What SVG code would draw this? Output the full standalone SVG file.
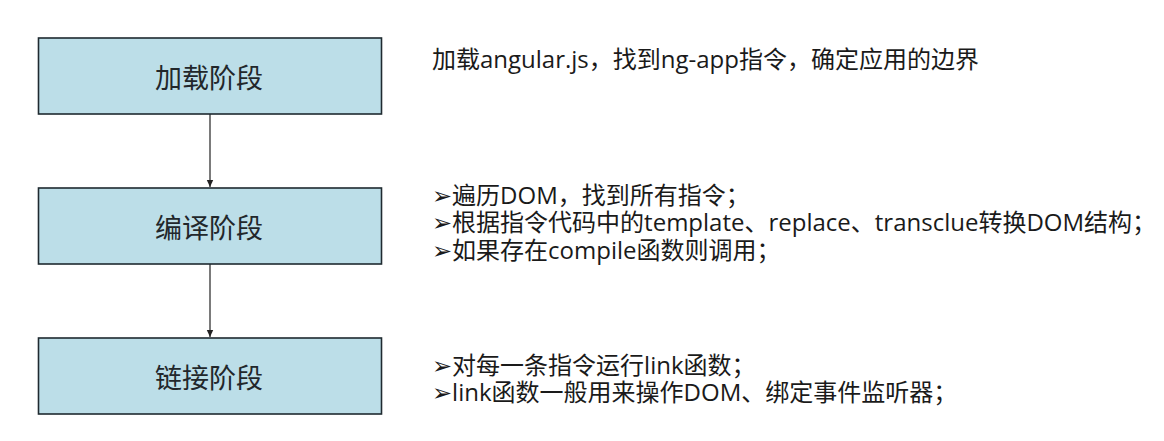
<svg xmlns="http://www.w3.org/2000/svg" width="1164" height="441" viewBox="0 0 1164 441">
<defs>
<style>
.box{fill:#BCDEE8;stroke:#1f2a30;stroke-width:1.6}
.lbl{font-family:"Noto Sans CJK SC","Noto Sans",sans-serif;font-size:27px;fill:#22272b;text-anchor:middle;dominant-baseline:central}
.desc{font-family:"Open Sans","Noto Sans CJK SC","DejaVu Sans",sans-serif;font-size:24px;fill:#1a1a1a}
.conn{stroke:#333;stroke-width:1.3;fill:none}
</style>
<marker id="ah" markerWidth="8" markerHeight="8" refX="7" refY="4" orient="auto" markerUnits="userSpaceOnUse">
<path d="M0,0.8 L7,4 L0,7.2 Z" fill="#222"/>
</marker>
</defs>
<rect width="1164" height="441" fill="#ffffff"/>
<g id="connectors">
<line class="conn" x1="210" y1="114" x2="210" y2="187" marker-end="url(#ah)"/>
<line class="conn" x1="210" y1="264" x2="210" y2="337" marker-end="url(#ah)"/>
</g>
<g id="node-load">
<rect class="box" x="38.5" y="38" width="343" height="76"/>
<text class="lbl" x="209" y="76">加载阶段</text>
</g>
<g id="node-compile">
<rect class="box" x="38.5" y="188" width="343" height="76"/>
<text class="lbl" x="209" y="226">编译阶段</text>
</g>
<g id="node-link">
<rect class="box" x="38.5" y="338" width="343" height="76"/>
<text class="lbl" x="209" y="376">链接阶段</text>
</g>
<g id="desc-load">
<text class="desc" x="432" y="68">加载angular.js，找到ng-app指令，确定应用的边界</text>
</g>
<g id="desc-compile">
<text class="desc"><tspan x="432" y="204">➢遍历DOM，找到所有指令；</tspan><tspan x="432" y="231">➢根据指令代码中的template、replace、transclue转换DOM结构；</tspan><tspan x="432" y="259">➢如果存在compile函数则调用；</tspan></text>
</g>
<g id="desc-link">
<text class="desc"><tspan x="432" y="374">➢对每一条指令运行link函数；</tspan><tspan x="432" y="401">➢link函数一般用来操作DOM、绑定事件监听器；</tspan></text>
</g>
</svg>
